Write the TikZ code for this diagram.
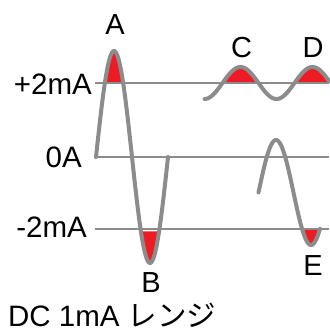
\documentclass[tikz,border=0pt]{standalone}
\usepackage{fontspec}
\setmainfont{Liberation Sans}
\newfontfamily\jpfont{Noto Sans CJK JP}
\definecolor{lgray}{RGB}{140,140,140}
\definecolor{lred}{RGB}{237,28,36}
\begin{document}
\begin{tikzpicture}[x=1pt,y=-1pt,
  axisline/.style={draw=lgray, line width=2.5pt},
  wave/.style={draw=lgray, line width=4pt, line cap=round, line join=round},
  lobe/.style={fill=lred},
  lab/.style={inner sep=0pt, anchor=base, font=\fontsize{29}{29}\selectfont},
  ylab/.style={inner sep=0pt, anchor=base east, font=\fontsize{29.5}{29.5}\selectfont}]
\useasboundingbox (0,0) rectangle (329,331);
% red lobes
\fill[lobe] plot[domain=104.9:123.1, samples=40, smooth] (\x, {157-106*sin(5*(\x-96))}) -- cycle;
\fill[lobe] plot[domain=140.9:159.1, samples=40, smooth] (\x, {157-106*sin(5*(\x-96))}) -- cycle;
\fill[lobe] plot[domain=222.5:258.5, samples=40, smooth] (\x, {83+16*cos(5*(\x-204.5))}) -- cycle;
\fill[lobe] plot[domain=294.5:329, samples=40, smooth] (\x, {83+16*cos(5*(\x-204.5))}) -- (329,83) -- cycle;
\fill[lobe] plot[domain=302.06:319.94, samples=40, smooth] (\x, {192.5-52.5*sin(5.142857*(\x-258.5))}) -- cycle;
% axis lines
\coordinate (p2s) at (95,83);  \coordinate (p2e) at (329,83);
\coordinate (z0s) at (95,157); \coordinate (z0e) at (329,157);
\coordinate (m2s) at (95,229); \coordinate (m2e) at (329,229);
\draw[axisline] (p2s) -- (p2e);
\draw[axisline] (z0s) -- (z0e);
\draw[axisline] (m2s) -- (m2e);
% waves
\draw[wave] plot[domain=96:168, samples=120, smooth] (\x, {157-106*sin(5*(\x-96))});
\draw[wave] plot[domain=204.5:329, samples=120, smooth] (\x, {83+16*cos(5*(\x-204.5))});
\draw[wave] plot[domain=258.5:320, samples=100, smooth] (\x, {192.5-52.5*sin(5.142857*(\x-258.5))});
% labels
\node[ylab] (lp2) at (92,95) {+2mA};
\node[ylab] (l0) at (82,167) {0A};
\node[ylab] (lm2) at (87,237) {-2mA};
\node[lab] (la) at (115,35) {A};
\node[lab] (lc) at (241.5,58) {C};
\node[lab] (ld) at (313,58) {D};
\node[lab] (lb) at (151,292) {B};
\node[lab] (le) at (313,275) {E};
\node[inner sep=0pt, anchor=base west, font=\fontsize{29.5}{29.5}\selectfont] (title) at (8,326) {DC 1mA {\jpfont レンジ}};
\end{tikzpicture}
\end{document}
